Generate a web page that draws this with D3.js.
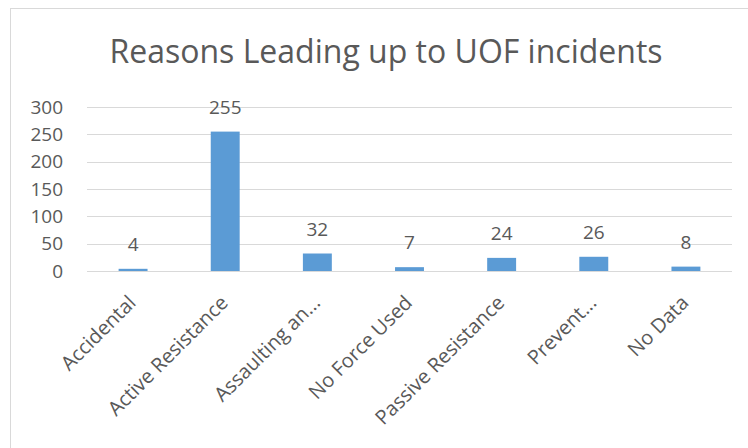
<!DOCTYPE html>
<html>
<head>
<meta charset="utf-8">
<script src="https://cdn.jsdelivr.net/npm/d3@7"></script>
<style>
  body { margin: 0; background: #fff; }
  text { font-family: "Open Sans", "Noto Sans", sans-serif; fill: #595959; }
</style>
</head>
<body>
<svg></svg>
<script>
const width = 748;
const height = 448;

const categories = [
  "Accidental",
  "Active Resistance",
  "Assaulting an...",
  "No Force Used",
  "Passive Resistance",
  "Prevent...",
  "No Data",
];
const values = [4, 255, 32, 7, 24, 26, 8];
const yTicks = [0, 50, 100, 150, 200, 250, 300];

const margin = { left: 87, right: 16, top: 107, bottom: 177 };
const fontFamily = '"Open Sans", "Noto Sans", sans-serif';

let svg = d3.select("svg").attr("width", width).attr("height", height);

// chart frame (runs off the right and bottom edges)
svg
  .append("rect")
  .attr("x", 10.5)
  .attr("y", 8.5)
  .attr("width", 760)
  .attr("height", 460)
  .attr("fill", "#fff")
  .attr("stroke", "#d9d9d9");

svg
  .append("text")
  .attr("x", 386)
  .attr("y", 63)
  .attr("text-anchor", "middle")
  .style("font-size", "32px")
  .text("Reasons Leading up to UOF incidents");

const x = d3
  .scaleBand()
  .domain(categories)
  .range([margin.left, width - margin.right])
  .paddingInner(0.686)
  .paddingOuter(0.343);

const y = d3
  .scaleLinear()
  .domain([0, 300])
  .range([height - margin.bottom, margin.top]);

// gridlines
svg
  .append("g")
  .selectAll("line")
  .data(yTicks)
  .enter()
  .append("line")
  .attr("x1", margin.left)
  .attr("x2", width - margin.right)
  .attr("y1", (d) => Math.round(y(d)) + 0.5)
  .attr("y2", (d) => Math.round(y(d)) + 0.5)
  .attr("stroke", "#d9d9d9")
  .attr("stroke-width", 1);

// y axis labels
const yAxis = d3.axisLeft(y).tickValues(yTicks).tickSize(0).tickPadding(24);
svg
  .append("g")
  .attr("transform", `translate(${margin.left},0)`)
  .call(yAxis)
  .call((g) => g.select(".domain").remove())
  .selectAll("text")
  .style("font-family", fontFamily)
  .style("font-size", "19px")
  .attr("fill", "#595959");

// bars
svg
  .append("g")
  .selectAll("rect")
  .data(values)
  .enter()
  .append("rect")
  .attr("x", (d, i) => x(categories[i]))
  .attr("y", (d) => y(d))
  .attr("width", x.bandwidth())
  .attr("height", (d) => y(0) - y(d))
  .attr("fill", "#5b9bd5");

// data labels
svg
  .append("g")
  .selectAll("text")
  .data(values)
  .enter()
  .append("text")
  .attr("x", (d, i) => x(categories[i]) + x.bandwidth() / 2)
  .attr("y", (d) => y(d) - 18)
  .attr("text-anchor", "middle")
  .style("font-size", "19px")
  .text((d) => d);

// category labels, rotated
const xAxis = d3.axisBottom(x).tickSize(0).tickPadding(0);
svg
  .append("g")
  .attr("transform", `translate(0,${y(0)})`)
  .call(xAxis)
  .call((g) => g.select(".domain").remove())
  .selectAll("text")
  .style("font-family", fontFamily)
  .style("font-size", "20px")
  .attr("fill", "#595959")
  .attr("text-anchor", "end")
  .attr("y", 0)
  .attr("dy", 0)
  .attr("transform", "translate(4,33) rotate(-45)");
</script>
</body>
</html>
